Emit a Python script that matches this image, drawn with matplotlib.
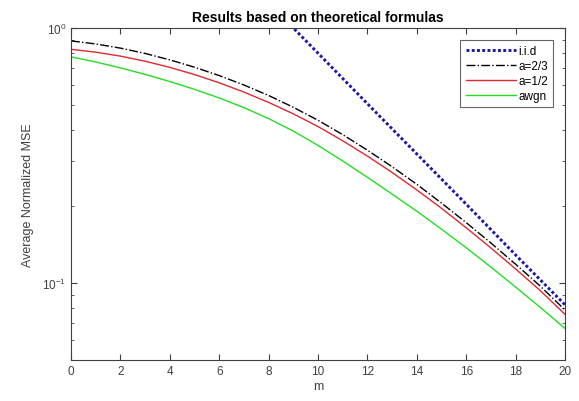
import matplotlib
matplotlib.use("Agg")
import matplotlib.pyplot as plt
from matplotlib.ticker import LogLocator, NullFormatter, FixedLocator

plt.rcParams['font.family'] = ['Liberation Sans', 'DejaVu Sans']

m = list(range(0, 21))
a23 = [0.890, 0.866, 0.834, 0.795, 0.750, 0.702, 0.651, 0.598, 0.544, 0.489, 0.435,
       0.382, 0.332, 0.286, 0.244, 0.206, 0.1727, 0.1437, 0.1187, 0.0974, 0.0785]
a12 = [0.825, 0.804, 0.776, 0.741, 0.701, 0.657, 0.610, 0.561, 0.511, 0.461, 0.411,
       0.3616, 0.3148, 0.2716, 0.2320, 0.1965, 0.1649, 0.1374, 0.1137, 0.0935, 0.0755]
awgn = [0.771, 0.736, 0.698, 0.658, 0.617, 0.575, 0.532, 0.4875, 0.4416, 0.3945, 0.3467,
        0.3013, 0.2600, 0.2234, 0.1914, 0.1629, 0.1377, 0.1156, 0.0966, 0.0804, 0.0665]
m_iid = [8, 10, 12, 14, 16, 18, 20]
iid = [1.255, 0.797, 0.505, 0.321, 0.204, 0.129, 0.0823]

fig = plt.figure(figsize=(5.79, 4.02), dpi=100)
ax = fig.add_axes([71/579, 1-361/402, (565-71)/579, (361-29)/402])

ax.plot(m_iid, iid, color='#1a1aa8', linestyle=(0, (1, 0.8)), linewidth=2.1, label='i.i.d')
ax.plot(m, a23, color='black', linestyle='-.', linewidth=1.0, label='a=2/3')
ax.plot(m, a12, color='#e0282e', linestyle='-', linewidth=1.0, label='a=1/2')
ax.plot(m, awgn, color='#22dd22', linestyle='-', linewidth=1.0, label='awgn')

ax.set_yscale('log')
ax.set_xlim(0, 20)
ax.set_ylim(0.05, 1)
ax.xaxis.set_major_locator(FixedLocator(list(range(0, 21, 2))))
ax.yaxis.set_major_locator(LogLocator(base=10, numticks=10))
ax.yaxis.set_minor_locator(LogLocator(base=10, subs=[2, 3, 4, 5, 6, 7, 8, 9], numticks=10))
ax.yaxis.set_minor_formatter(NullFormatter())

ax.tick_params(which='both', direction='in', top=True, right=True, colors='#404040',
               labelcolor='#404040', labelsize=8.5)
ax.tick_params(which='major', length=4)
ax.tick_params(which='minor', length=2.5)
for s in ax.spines.values():
    s.set_color('#404040')
    s.set_linewidth(0.8)

ax.set_xlabel('m', fontsize=9, color='#404040', labelpad=2)
ax.set_ylabel('Average Normalized MSE', fontsize=9, color='#404040', labelpad=6)
ax.set_title('Results based on theoretical formulas', fontsize=10, fontweight='bold', pad=5)

leg = ax.legend(loc='upper right', fontsize=8.5, fancybox=False, edgecolor='#404040',
                handlelength=4.3, borderaxespad=1.0, labelspacing=0.25, handletextpad=0.15,
                borderpad=0.45)
leg.get_frame().set_linewidth(0.8)

fig.savefig('out.png', dpi=100)
